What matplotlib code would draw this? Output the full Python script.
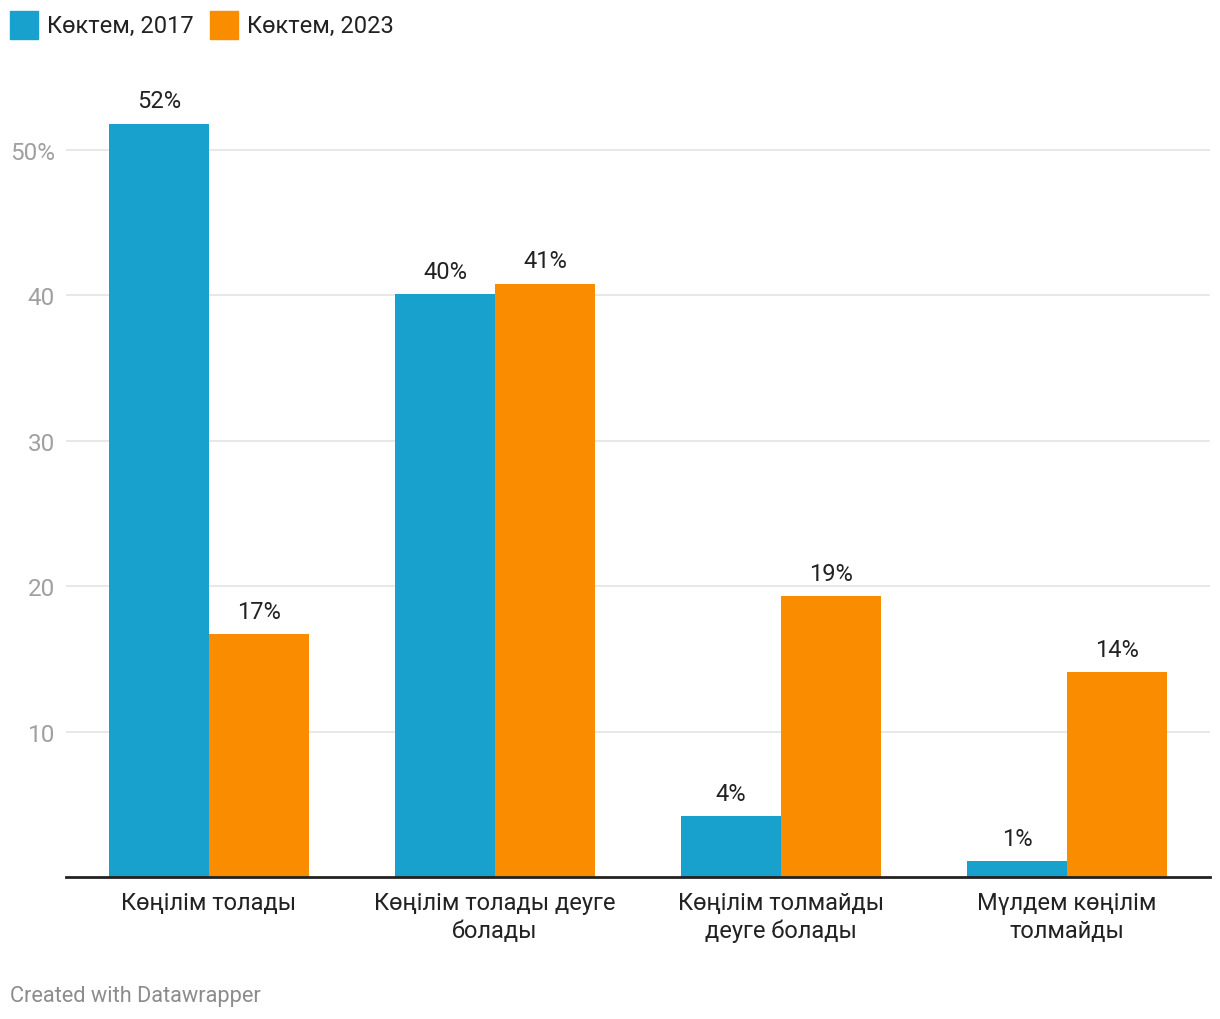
import matplotlib.pyplot as plt
from matplotlib.patches import Rectangle
import numpy as np

plt.rcParams['font.family'] = ['Roboto', 'DejaVu Sans']

categories = ["Көңілім толады", "Көңілім толады деуге\nболады",
              "Көңілім толмайды\nдеуге болады", "Мүлдем көңілім\nтолмайды"]
series_names = ["Көктем, 2017", "Көктем, 2023"]
vals_2017 = [51.8, 40.1, 4.2, 1.1]
vals_2023 = [16.7, 40.8, 19.3, 14.1]
labels_2017 = ["52%", "40%", "4%", "1%"]
labels_2023 = ["17%", "41%", "19%", "14%"]
yticks = [10, 20, 30, 40, 50]
ytick_labels = ["10", "20", "30", "40", "50%"]

blue = '#18a1cd'
orange = '#fa8c00'

fig = plt.figure(figsize=(12.2, 10.2), dpi=100)
ax = fig.add_axes([0.0541, 0.1392, 0.9377, 0.7843])

x = np.arange(len(categories))
w = 0.35
b1 = ax.bar(x - w / 2, vals_2017, w, color=blue, zorder=2)
b2 = ax.bar(x + w / 2, vals_2023, w, color=orange, zorder=2)

for bars, labs in ((b1, labels_2017), (b2, labels_2023)):
    for r, lab in zip(bars, labs):
        ax.annotate(lab, (r.get_x() + r.get_width() / 2, r.get_height()),
                    xytext=(0, 8), textcoords='offset points',
                    ha='center', va='bottom', fontsize=17, color='#222222')

ax.set_xlim(-0.5, 3.5)
ax.set_ylim(0, 55)
ax.set_yticks(yticks)
ax.set_yticklabels(ytick_labels)
ax.set_xticks(x)
ax.set_xticklabels(categories, fontsize=17, color='#222222', linespacing=1.26)
ax.tick_params(axis='x', length=0, pad=10)
ax.tick_params(axis='y', length=0, pad=8, labelsize=17.5, labelcolor='#a0a0a0')
ax.yaxis.grid(True, color='#e4e4e4', lw=1.2, zorder=0)
for s in ('left', 'right', 'top'):
    ax.spines[s].set_visible(False)
ax.spines['bottom'].set_color('#222222')
ax.spines['bottom'].set_linewidth(2)
ax.spines['bottom'].set_zorder(3)

# legend
for i, (name, col) in enumerate(zip(series_names, [blue, orange])):
    x0 = [10, 210][i]
    fig.patches.append(Rectangle((x0 / 1220, 1 - 40 / 1020), 28 / 1220, 28 / 1020,
                                 transform=fig.transFigure, color=col))
    fig.text((x0 + 37) / 1220, 1 - 26 / 1020, name, fontsize=17,
             color='#222222', va='center', ha='left')

fig.text(10 / 1220, 1 - 997 / 1020, "Created with Datawrapper", fontsize=15.7,
         color='#8c8c8c', va='center', ha='left')

fig.savefig('out.png', dpi=100, facecolor='white')
